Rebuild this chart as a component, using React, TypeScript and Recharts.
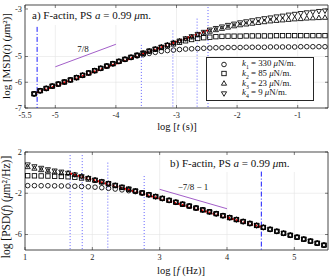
import React from "react";
import {
  ComposedChart,
  XAxis,
  YAxis,
  CartesianGrid,
  Scatter,
  Line,
  ReferenceLine,
  ReferenceArea,
  Legend,
  Customized,
} from "recharts";

// ---- panel a) MSD ----
const logT = [
  -5.35, -5.25, -5.15, -5.05, -4.95, -4.85, -4.75, -4.65, -4.55, -4.45, -4.35,
  -4.25, -4.15, -4.05, -3.95, -3.85, -3.75, -3.65, -3.55, -3.45, -3.35, -3.25,
  -3.15, -3.05, -2.95, -2.85, -2.75, -2.65, -2.55, -2.45, -2.35, -2.25, -2.15,
  -2.05, -1.95, -1.85, -1.75, -1.65, -1.55, -1.45, -1.35, -1.25, -1.15, -1.05,
  -0.95, -0.85, -0.75, -0.65, -0.55,
];
const msdK1 = [
  -6.45, -6.33, -6.24, -6.15, -6.07, -5.99, -5.91, -5.82, -5.73, -5.64, -5.55,
  -5.46, -5.37, -5.28, -5.19, -5.11, -5.04, -4.98, -4.93, -4.88, -4.84, -4.8,
  -4.77, -4.75, -4.73, -4.71, -4.7, -4.69, -4.68, -4.67, -4.66, -4.66, -4.65,
  -4.65, -4.65, -4.64, -4.64, -4.64, -4.64, -4.63, -4.63, -4.63, -4.63, -4.63,
  -4.62, -4.62, -4.62, -4.62, -4.62,
];
const msdK2 = [
  -6.45, -6.33, -6.24, -6.15, -6.07, -5.99, -5.91, -5.82, -5.73, -5.64, -5.55,
  -5.46, -5.37, -5.28, -5.19, -5.11, -5.03, -4.95, -4.87, -4.79, -4.72, -4.65,
  -4.58, -4.51, -4.45, -4.39, -4.34, -4.3, -4.27, -4.25, -4.23, -4.22, -4.21,
  -4.21, -4.21, -4.2, -4.2, -4.2, -4.2, -4.2, -4.19, -4.19, -4.19, -4.19,
  -4.19, -4.19, -4.19, -4.19, -4.19,
];
const msdK3 = [
  -6.45, -6.33, -6.24, -6.15, -6.07, -5.99, -5.91, -5.82, -5.73, -5.64, -5.55,
  -5.46, -5.37, -5.28, -5.19, -5.11, -5.03, -4.95, -4.87, -4.79, -4.71, -4.63,
  -4.55, -4.47, -4.4, -4.32, -4.25, -4.17, -4.1, -4.03, -3.97, -3.92, -3.87,
  -3.82, -3.78, -3.75, -3.72, -3.69, -3.66, -3.63, -3.61, -3.59, -3.57, -3.55,
  -3.54, -3.52, -3.51, -3.5, -3.49,
];
const msdK4 = [
  -6.45, -6.33, -6.24, -6.15, -6.07, -5.99, -5.91, -5.82, -5.73, -5.64, -5.55,
  -5.46, -5.37, -5.28, -5.19, -5.11, -5.03, -4.95, -4.87, -4.79, -4.71, -4.63,
  -4.55, -4.47, -4.39, -4.3, -4.22, -4.13, -4.05, -3.96, -3.9, -3.84, -3.78,
  -3.73, -3.68, -3.64, -3.6, -3.56, -3.52, -3.49, -3.45, -3.42, -3.38, -3.35,
  -3.32, -3.29, -3.27, -3.24, -3.22,
];
const msdFitT = [-5.3, -2.48];
const msdFitV = [-6.4, -3.98];
const slopeAT = [-5, -4];
const slopeAV = [-5.4, -4.525];
const msdDotted = [-3.58, -3.06, -2.66, -2.48];
const msdDottedTop = [-4.55, -3.99, -3.53, -3.08];
const msdDashDot = -5.3;
const msdXTicks = [-5.5, -5, -4, -3, -2, -1];
const msdYTicks = [-7, -6, -5, -4, -3];

// ---- panel b) PSD ----
const logF = [
  1.04, 1.14, 1.24, 1.34, 1.44, 1.54, 1.64, 1.74, 1.84, 1.94, 2.04, 2.14, 2.24,
  2.34, 2.44, 2.54, 2.64, 2.74, 2.84, 2.94, 3.04, 3.14, 3.24, 3.34, 3.44, 3.54,
  3.64, 3.74, 3.84, 3.94, 4.04, 4.14, 4.24, 4.34, 4.44, 4.54, 4.64, 4.74, 4.84,
  4.94, 5.04, 5.14, 5.24, 5.34, 5.44,
];
const psdK1 = [
  -1.26, -1.26, -1.27, -1.27, -1.28, -1.29, -1.3, -1.32, -1.34, -1.37, -1.41,
  -1.46, -1.52, -1.59, -1.67, -1.75, -1.84, -1.98, -2.15, -2.32, -2.5, -2.69,
  -2.87, -3.06, -3.24, -3.43, -3.61, -3.8, -3.98, -4.17, -4.36, -4.55, -4.74,
  -4.93, -5.12, -5.31, -5.5, -5.69, -5.88, -6.07, -6.26, -6.45, -6.64, -6.84,
  -7.03,
];
const psdK2 = [
  -0.3, -0.31, -0.32, -0.33, -0.35, -0.37, -0.4, -0.45, -0.52, -0.62, -0.75,
  -0.9, -1.07, -1.24, -1.42, -1.6, -1.78, -1.96, -2.14, -2.32, -2.5, -2.69,
  -2.87, -3.06, -3.24, -3.43, -3.61, -3.8, -3.98, -4.17, -4.36, -4.55, -4.74,
  -4.93, -5.12, -5.31, -5.5, -5.69, -5.88, -6.07, -6.26, -6.45, -6.64, -6.84,
  -7.03,
];
const psdK3 = [
  0.55, 0.4, 0.26, 0.14, 0.04, -0.05, -0.07, -0.21, -0.36, -0.53, -0.71, -0.88,
  -1.06, -1.24, -1.42, -1.6, -1.78, -1.96, -2.14, -2.32, -2.5, -2.69, -2.87,
  -3.06, -3.24, -3.43, -3.61, -3.8, -3.98, -4.17, -4.36, -4.55, -4.74, -4.93,
  -5.12, -5.31, -5.5, -5.69, -5.88, -6.07, -6.26, -6.45, -6.64, -6.84, -7.03,
];
const psdK4 = [
  0.78, 0.6, 0.45, 0.31, 0.19, 0.08, -0.03, -0.19, -0.36, -0.53, -0.71, -0.88,
  -1.06, -1.24, -1.42, -1.6, -1.78, -1.96, -2.14, -2.32, -2.5, -2.69, -2.87,
  -3.06, -3.24, -3.43, -3.61, -3.8, -3.98, -4.17, -4.36, -4.55, -4.74, -4.93,
  -5.12, -5.31, -5.5, -5.69, -5.88, -6.07, -6.26, -6.45, -6.64, -6.84, -7.03,
];
const psdFitF = [1.67, 4.51];
const psdFitV = [-0.08, -5.28];
const slopeBF = [3, 4];
const slopeBV = [-1.62, -3.5];
const psdDotted = [1.67, 1.85, 2.23, 2.77];
const psdDottedTop = [1.7, 1.7, 0.97, -0.33];
const psdDashDot = 4.51;
const psdXTicks = [1, 2, 3, 4, 5];
const psdYTicks = [-6, -4, -2, 0, 2];

const legendLabels = ["330", "85", "23", "9"];

const FONT = "'Liberation Serif', 'Times New Roman', serif";
const AX = "#262626";
const GRID = "#e4e4e4";
const BLUE = "#0000ff";
const DOT_BLUE = "#3b3bff";
const PURPLE = "#a35fc9";
const W = 329;
const H = 139;
const LEFT = 25;
const RIGHT = 328;

const pts = (xs: number[], ys: number[]) => xs.map((x, i) => ({ x, y: ys[i] }));

const mk = { stroke: "#000", strokeWidth: 0.85, fill: "none" };
const Circ = (p: any) => <circle cx={p.cx} cy={p.cy} r={2.3} {...mk} />;
const Sq = (p: any) => (
  <rect x={p.cx - 2.2} y={p.cy - 2.2} width={4.4} height={4.4} {...mk} />
);
const TriUp = (p: any) => (
  <path
    d={`M${p.cx},${p.cy - 2.8}L${p.cx + 2.6},${p.cy + 1.7}L${p.cx - 2.6},${p.cy + 1.7}Z`}
    {...mk}
  />
);
const TriDown = (p: any) => (
  <path
    d={`M${p.cx},${p.cy + 2.8}L${p.cx + 2.6},${p.cy - 1.7}L${p.cx - 2.6},${p.cy - 1.7}Z`}
    {...mk}
  />
);
const shapes = [Circ, Sq, TriUp, TriDown];

function xTick(top: number, bottom: number) {
  return (props: any) => {
    const { x, payload } = props;
    return (
      <g>
        <line x1={x} x2={x} y1={bottom} y2={bottom - 3} stroke={AX} strokeWidth={0.6} />
        <line x1={x} x2={x} y1={top} y2={top + 3} stroke={AX} strokeWidth={0.6} />
        <text x={x} y={bottom + 10} textAnchor="middle" fontSize={8.3} fontFamily={FONT} fill={AX}>
          {String(payload.value)}
        </text>
      </g>
    );
  };
}

function yTick(props: any) {
  const { y, payload } = props;
  return (
    <g>
      <line x1={LEFT} x2={LEFT + 3} y1={y} y2={y} stroke={AX} strokeWidth={0.6} />
      <line x1={RIGHT} x2={RIGHT - 3} y1={y} y2={y} stroke={AX} strokeWidth={0.6} />
      <text x={LEFT - 3} y={y + 2.5} textAnchor="end" fontSize={8.3} fontFamily={FONT} fill={AX}>
        {String(payload.value)}
      </text>
    </g>
  );
}

function MsdTexts() {
  return (
    <g fontFamily={FONT} fill="#111">
      <rect x={25.5} y={5.5} width={145} height={19.5} fill="#fff" />
      <text x={32} y={18.5} fontSize={11}>
        a) F-actin, PS <tspan fontStyle="italic">a</tspan> = 0.99 <tspan fontStyle="italic">μ</tspan>m.
      </text>
      <text x={83} y={52} fontSize={9}>
        <tspan textAnchor="middle">7/8</tspan>
      </text>
      <text x={177} y={129.5} fontSize={10.5} textAnchor="middle">
        log [<tspan fontStyle="italic">t</tspan> (s)]
      </text>
      <text transform="translate(10,56) rotate(-90)" fontSize={11} textAnchor="middle">
        log [MSD(<tspan fontStyle="italic">t</tspan>) (<tspan fontStyle="italic">μ</tspan>m²)]
      </text>
    </g>
  );
}

function PsdTexts() {
  return (
    <g fontFamily={FONT} fill="#111">
      <rect x={161} y={13.5} width={166.5} height={19.5} fill="#fff" />
      <text x={170} y={27.5} fontSize={11}>
        b) F-actin, PS <tspan fontStyle="italic">a</tspan> = 0.99 <tspan fontStyle="italic">μ</tspan>m.
      </text>
      <text x={193} y={51} fontSize={9} textAnchor="middle">−7/8 − 1</text>
      <text x={181} y={135} fontSize={10.5} textAnchor="middle">
        log [<tspan fontStyle="italic">f</tspan> (Hz)]
      </text>
      <text transform="translate(10,68) rotate(-90)" fontSize={11.5} textAnchor="middle">
        log [PSD(<tspan fontStyle="italic">f</tspan>) (<tspan fontStyle="italic">μ</tspan>m²/Hz)]
      </text>
    </g>
  );
}

function LegendBox() {
  return (
    <div
      style={{
        width: 108,
        height: 44,
        border: `1px solid ${AX}`,
        background: "#fff",
        fontFamily: FONT,
        fontSize: 8.8,
        color: "#111",
        padding: "2px 0",
        boxSizing: "border-box",
      }}
    >
      {legendLabels.map((v, i) => {
        const S = shapes[i];
        return (
          <div key={v} style={{ display: "flex", alignItems: "center", height: 9.6, whiteSpace: "nowrap" }}>
            <svg width={35} height={9} style={{ flex: "none" }}>
              <S cx={17} cy={4.5} />
            </svg>
            <span>
              <i>k</i>
              <sub style={{ fontSize: 5.8 }}>{i + 1}</sub> = {v} <i>μ</i>N/m.
            </span>
          </div>
        );
      })}
    </div>
  );
}

export default function App() {
  const msdSeries = [msdK1, msdK2, msdK3, msdK4];
  const psdSeries = [psdK1, psdK2, psdK3, psdK4];
  return (
    <div style={{ position: "absolute", left: 0, top: 0, width: W, height: 2 * H, background: "#fff" }}>
      <ComposedChart width={W} height={H} margin={{ top: 5, right: 1, left: 0, bottom: 0 }}>
        <CartesianGrid stroke={GRID} strokeWidth={0.6} />
        <XAxis
          type="number"
          dataKey="x"
          domain={[-5.5, -0.5]}
          ticks={msdXTicks}
          height={31}
          axisLine={false}
          tickLine={false}
          tickSize={0}
          tickMargin={0}
          tick={xTick(5, 108)}
          allowDataOverflow
        />
        <YAxis
          type="number"
          domain={[-7, -3]}
          ticks={msdYTicks}
          width={25}
          axisLine={false}
          tickLine={false}
          tickSize={0}
          tickMargin={0}
          tick={yTick}
          allowDataOverflow
        />
        <Customized component={<MsdTexts />} />
        <ReferenceLine
          segment={[{ x: msdDashDot, y: -3.85 }, { x: msdDashDot, y: -7 }]}
          stroke={BLUE}
          strokeWidth={0.9}
          strokeDasharray="5 2 1 2"
        />
        {msdDotted.map((x, i) => (
          <ReferenceLine
            key={x}
            segment={[{ x, y: msdDottedTop[i] }, { x, y: -7 }]}
            stroke={DOT_BLUE}
            strokeWidth={0.8}
            strokeDasharray="1 2"
          />
        ))}
        <Line
          data={pts(slopeAT, slopeAV)}
          dataKey="y"
          stroke={PURPLE}
          strokeWidth={1}
          dot={false}
          isAnimationActive={false}
        />
        <Line
          data={pts(msdFitT, msdFitV)}
          dataKey="y"
          stroke="#ff0000"
          strokeWidth={2}
          strokeDasharray="2 2"
          dot={false}
          isAnimationActive={false}
        />
        {msdSeries.map((s, i) => (
          <Scatter
            key={i}
            data={pts(logT, s)}
            dataKey="y"
            shape={shapes[i]}
            isAnimationActive={false}
          />
        ))}
        <ReferenceArea x1={-5.5} x2={-0.5} y1={-7} y2={-3} fill="none" stroke={AX} strokeWidth={0.8} />
        <Legend
          layout="vertical"
          align="center"
          verticalAlign="middle"
          wrapperStyle={{ left: 206, top: 56.5, width: 108, height: 44 }}
          content={() => <LegendBox />}
        />
      </ComposedChart>

      <ComposedChart width={W} height={H} margin={{ top: 13, right: 1, left: 0, bottom: 0 }}>
        <CartesianGrid stroke={GRID} strokeWidth={0.6} />
        <XAxis
          type="number"
          dataKey="x"
          domain={[1, 5.5]}
          ticks={psdXTicks}
          height={28}
          axisLine={false}
          tickLine={false}
          tickSize={0}
          tickMargin={0}
          tick={xTick(13, 111)}
          allowDataOverflow
        />
        <YAxis
          type="number"
          domain={[-7.5, 2]}
          ticks={psdYTicks}
          width={25}
          axisLine={false}
          tickLine={false}
          tickSize={0}
          tickMargin={0}
          tick={yTick}
          allowDataOverflow
        />
        <Customized component={<PsdTexts />} />
        <ReferenceLine
          segment={[{ x: psdDashDot, y: 0.1 }, { x: psdDashDot, y: -7.5 }]}
          stroke={BLUE}
          strokeWidth={0.9}
          strokeDasharray="5 2 1 2"
        />
        {psdDotted.map((x, i) => (
          <ReferenceLine
            key={x}
            segment={[{ x, y: psdDottedTop[i] }, { x, y: -7.5 }]}
            stroke={DOT_BLUE}
            strokeWidth={0.8}
            strokeDasharray="1 2"
          />
        ))}
        <Line
          data={pts(slopeBF, slopeBV)}
          dataKey="y"
          stroke={PURPLE}
          strokeWidth={1}
          dot={false}
          isAnimationActive={false}
        />
        <Line
          data={pts(psdFitF, psdFitV)}
          dataKey="y"
          stroke="#ff0000"
          strokeWidth={2}
          strokeDasharray="2 2"
          dot={false}
          isAnimationActive={false}
        />
        {psdSeries.map((s, i) => (
          <Scatter
            key={i}
            data={pts(logF, s)}
            dataKey="y"
            shape={shapes[i]}
            isAnimationActive={false}
          />
        ))}
        <ReferenceArea x1={1} x2={5.5} y1={-7.5} y2={2} fill="none" stroke={AX} strokeWidth={0.8} />
      </ComposedChart>
    </div>
  );
}
